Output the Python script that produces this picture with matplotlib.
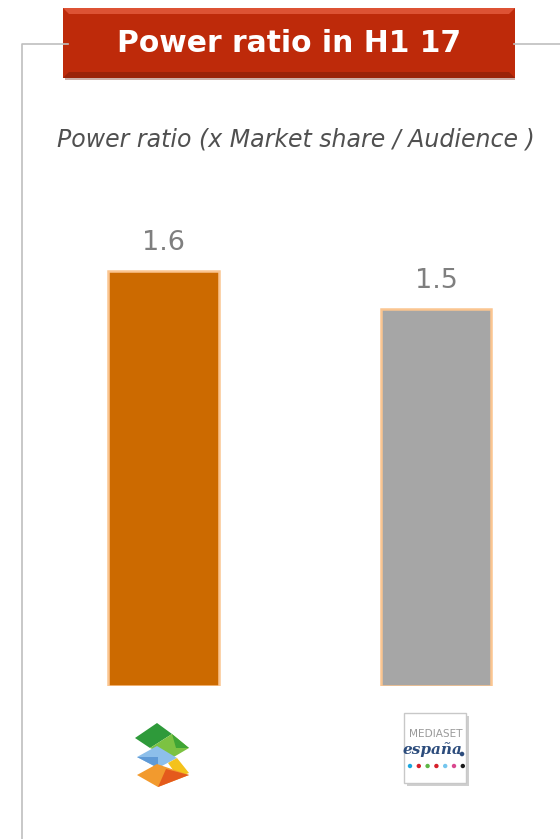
import matplotlib
matplotlib.use("Agg")
import matplotlib.pyplot as plt
from matplotlib.patches import Rectangle, Polygon, Circle

# data
companies = ["Atresmedia", "Mediaset España"]
power_ratio = [1.62, 1.47]
bar_colors = ["#CC6A00", "#A6A6A6"]

title = "Power ratio in H1 17"
subtitle = "Power ratio (x Market share / Audience )"

W, H = 560, 839
fig = plt.figure(figsize=(W / 100, H / 100), dpi=100)

# overlay in pixel coordinates for the frame, banner and logos
deco = fig.add_axes([0, 0, 1, 1])
deco.set_xlim(0, W)
deco.set_ylim(H, 0)
deco.axis("off")

# frame lines
deco.plot([22, 22, 68], [H, 44, 44], color="#BFBFBF", lw=1.2)
deco.plot([514, W], [44, 44], color="#BFBFBF", lw=1.2)

# banner with a bit of bevel shading
deco.add_patch(Rectangle((65, 10), 450, 70, facecolor="#6E1805", edgecolor="none", alpha=0.35))
deco.add_patch(Rectangle((63, 8), 452, 70, facecolor="#BE2A0A", edgecolor="none"))
deco.add_patch(Polygon([(63, 8), (515, 8), (509, 14), (69, 14)], facecolor="#DD5234", edgecolor="none"))
deco.add_patch(Polygon([(63, 78), (515, 78), (509, 72), (69, 72)], facecolor="#9A2208", edgecolor="none"))
deco.text(289, 44, title, color="white", fontsize=21.4, fontweight="bold",
          ha="center", va="center")

deco.text(296, 139, subtitle, color="#505050", fontsize=17, style="italic",
          ha="center", va="center")

# Atresmedia logo (stacked rhombi)
deco.add_patch(Polygon([(135, 738), (157, 723), (172, 734), (150, 748)], facecolor="#2E9A3A", edgecolor="none"))
deco.add_patch(Polygon([(150, 748), (172, 734), (189, 748), (172, 758)], facecolor="#7CC242", edgecolor="none"))
deco.add_patch(Polygon([(172, 734), (189, 748), (176, 748)], facecolor="#3FA535", edgecolor="none"))
deco.add_patch(Polygon([(137, 757), (157, 746), (177, 758), (158, 768)], facecolor="#8DBFEA", edgecolor="none"))
deco.add_patch(Polygon([(137, 757), (158, 768), (158, 757)], facecolor="#5F9AD6", edgecolor="none"))
deco.add_patch(Polygon([(168, 763), (177, 758), (189, 773), (178, 777)], facecolor="#F4C21B", edgecolor="none"))
deco.add_patch(Polygon([(137, 775), (157, 764), (189, 775), (158, 787)], facecolor="#F29A2E", edgecolor="none"))
deco.add_patch(Polygon([(158, 787), (166, 769), (189, 775)], facecolor="#E45A1C", edgecolor="none"))

# Mediaset España logo
deco.add_patch(Rectangle((407, 716), 62, 70, facecolor="#CFCFCF", edgecolor="none"))
deco.add_patch(Rectangle((404, 713), 62, 70, facecolor="white", edgecolor="#C8C8C8", lw=1))
deco.text(436, 734, "MEDIASET", color="#9A9A9A", fontsize=7.6, ha="center", va="center")
deco.text(432, 750, "españa", color="#2C4C7C", fontsize=11, fontweight="bold",
          style="italic", family="DejaVu Serif", ha="center", va="center")
deco.add_patch(Circle((462, 754), 2.3, facecolor="#2C4C7C", edgecolor="none"))
dot_colors = ["#1BA6DE", "#D6202A", "#5DB646", "#D6202A", "#74C6EE", "#D9478E", "#1A1A1A"]
for i, c in enumerate(dot_colors):
    deco.add_patch(Circle((410 + i * 8.8, 766), 2.2, facecolor=c, edgecolor="none"))

# bar chart
top_px, bottom_px, left_px, right_px = 200, 686, 22, 560
ax = fig.add_axes([left_px / W, 1 - bottom_px / H,
                   (right_px - left_px) / W, (bottom_px - top_px) / H])
ax.patch.set_alpha(0)
x = [0, 1]
ax.bar(x, power_ratio, width=0.407, color=bar_colors, edgecolor="#FBC590", linewidth=1.8)
for xi, v in zip(x, power_ratio):
    ax.text(xi, v + 0.06, f"{v:.1f}", ha="center", va="bottom", color="#7F7F7F", fontsize=19.5)
ax.set_xlim(-0.519, 1.455)
ax.set_ylim(0, 1.897)
ax.axis("off")

fig.savefig("out.png", dpi=100)
